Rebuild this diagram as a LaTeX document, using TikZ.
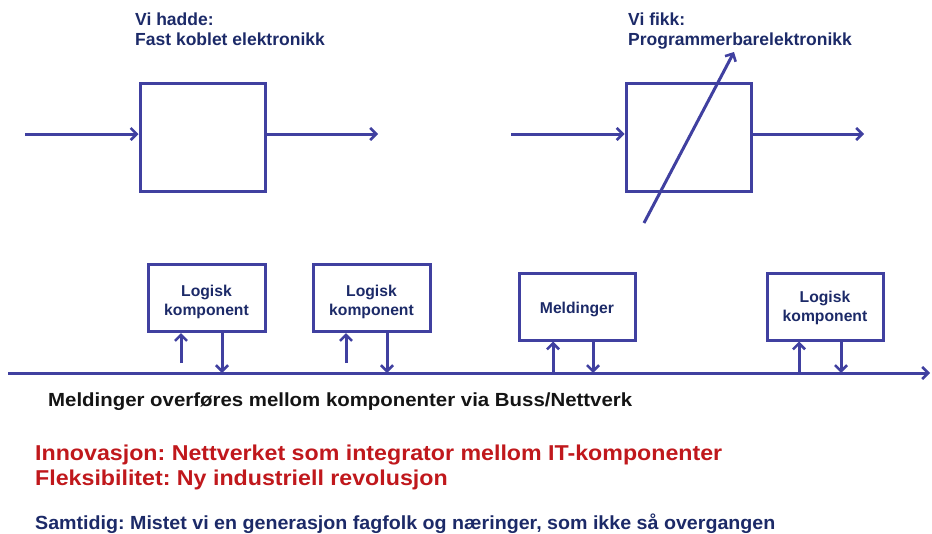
\documentclass[tikz,border=0pt]{standalone}
\usepackage{fontspec}
\setmainfont{Liberation Sans}
\usetikzlibrary{arrows.meta}
\definecolor{linecol}{RGB}{64,64,160}
\definecolor{navy}{RGB}{28,42,104}
\definecolor{redtxt}{RGB}{192,24,28}
\definecolor{darktxt}{RGB}{20,20,20}
\frenchspacing
\begin{document}
\begin{tikzpicture}[x=1pt,y=-1pt,
  wire/.style={draw=linecol, line width=3pt},
  arr/.style={wire, -{Straight Barb[length=6pt,width=12pt,line width=2.6pt]}},
  bigbox/.style={wire, rectangle, minimum width=125pt, minimum height=108pt, inner sep=0pt},
  compbox/.style={wire, rectangle, minimum width=117pt, minimum height=67pt, inner sep=0pt},
  complabel/.style={align=center, inner sep=0pt, text=navy, font=\fontsize{15.7}{18.5}\selectfont\bfseries},
  title/.style={anchor=base west, inner sep=0pt, text=navy, font=\fontsize{17.5}{20}\selectfont\bfseries},
  caption/.style={anchor=base west, inner sep=0pt}
]
\useasboundingbox (0,0) rectangle (932,533);

% --- fixed wiring (left) ---
\node[title] (t1a) at (135,25) {Vi hadde:};
\node[title] (t1b) at (135,45) {Fast koblet elektronikk};
\node[bigbox] (fixed) at (202.5,137.5) {};
\coordinate (fixedin) at (25,134);
\coordinate (fixedout) at (378,134);
\draw[arr] (fixedin) -- (fixedin -| fixed.west);
\draw[arr] (fixedin -| fixed.east) -- (fixedout);

% --- programmable electronics (right) ---
\node[title] (t2a) at (628,25) {Vi fikk:};
\node[title] (t2b) at (628,45) {Programmerbarelektronikk};
\node[bigbox] (prog) at (688.5,137.5) {};
\coordinate (progin) at (511,134);
\coordinate (progout) at (864,134);
\draw[arr] (progin) -- (progin -| prog.west);
\draw[arr] (progin -| prog.east) -- (progout);
\coordinate (knobA) at (644,223);
\coordinate (knobB) at (734,52);
\draw[arr] (knobA) -- (knobB);

% --- bus with components ---
\coordinate (busA) at (8,373);
\coordinate (busB) at (930,373);
\draw[arr] (busA) -- (busB);

\node[compbox] (c1) at (206.5,298) {};
\node[compbox] (c2) at (371.5,298) {};
\node[compbox, minimum width=116pt] (c3) at (577,306.5) {};
\node[compbox, minimum width=116pt] (c4) at (825,306.5) {};
\node[complabel] (l1) at (206.5,302) {Logisk\\komponent};
\node[complabel] (l2) at (371.5,302) {Logisk\\komponent};
\node[complabel] (l3) at (577,309.5) {Meldinger};
\node[complabel] (l4) at (825,308) {Logisk\\komponent};

\coordinate (u1) at (181,363);
\coordinate (u2) at (346,363);
\coordinate (u3) at (553,373);
\coordinate (u4) at (799,373);
\draw[arr] (u1) -- (u1 |- c1.south);
\draw[arr] (u2) -- (u2 |- c2.south);
\draw[arr] (u3) -- (u3 |- c3.south);
\draw[arr] (u4) -- (u4 |- c4.south);

\coordinate (d1) at (222,373);
\coordinate (d2) at (387,373);
\coordinate (d3) at (593,373);
\coordinate (d4) at (841,373);
\draw[arr] (d1 |- c1.south) -- (d1);
\draw[arr] (d2 |- c2.south) -- (d2);
\draw[arr] (d3 |- c3.south) -- (d3);
\draw[arr] (d4 |- c4.south) -- (d4);

% --- captions ---
\node[caption, text=darktxt, font=\fontsize{19}{22}\selectfont\bfseries] (cap1) at (48,406)
  {\scalebox{1.074}[1]{Meldinger overføres mellom komponenter via Buss/Nettverk}};
\node[caption, text=redtxt, font=\fontsize{21.5}{24}\selectfont\bfseries] (cap2) at (35,460)
  {\scalebox{1.079}[1]{Innovasjon: Nettverket som integrator mellom IT-komponenter}};
\node[caption, text=redtxt, font=\fontsize{21.5}{24}\selectfont\bfseries] (cap3) at (35,485)
  {\scalebox{1.079}[1]{Fleksibilitet: Ny industriell revolusjon}};
\node[caption, text=navy, font=\fontsize{19}{22}\selectfont\bfseries] (cap4) at (35,529)
  {\scalebox{1.034}[1]{Samtidig: Mistet vi en generasjon fagfolk og næringer, som ikke så overgangen}};
\end{tikzpicture}
\end{document}
